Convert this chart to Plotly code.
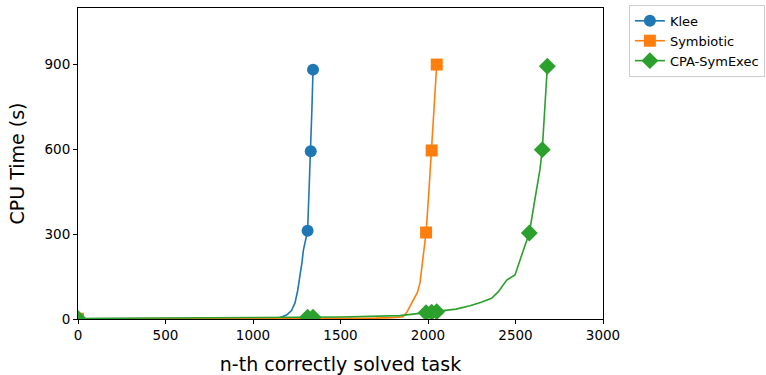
import plotly.graph_objects as go

# Klee
klee_x = [0, 200, 500, 800, 1000, 1100, 1150, 1192, 1220, 1240, 1255, 1269, 1280, 1288, 1300, 1312, 1320, 1330, 1337, 1343]
klee_y = [1, 1, 1.5, 2, 2, 3, 4, 14, 30, 57, 100, 150, 200, 244, 280, 312, 450, 593, 750, 882]
klee_mx = [0, 1312, 1330, 1343]
klee_my = [1, 312, 593, 882]

# Symbiotic
sym_x = [0, 500, 1000, 1500, 1700, 1800, 1840, 1857, 1880, 1897, 1910, 1926, 1940, 1954, 1970, 1989, 2005, 2021, 2035, 2050]
sym_y = [1, 1, 1.5, 2, 3, 5, 6, 8, 25, 44, 60, 79, 95, 127, 210, 306, 450, 596, 750, 900]
sym_mx = [0, 1989, 2021, 2050]
sym_my = [1, 306, 596, 900]

# CPA-SymExec
cpa_x = [0, 500, 1000, 1312, 1343, 1500, 1840, 1989, 2021, 2050, 2088, 2160, 2240, 2300, 2363, 2400, 2450, 2497, 2526, 2550, 2579, 2610, 2640, 2653, 2668, 2682]
cpa_y = [2, 3, 4, 6, 6, 7, 12, 22, 24, 26, 28, 35, 47, 58, 73, 95, 138, 156, 209, 250, 304, 420, 530, 599, 750, 894]
cpa_mx = [0, 1312, 1343, 1989, 2021, 2050, 2579, 2653, 2682]
cpa_my = [2, 6, 6, 22, 24, 26, 304, 599, 894]

x_ticks = [0, 500, 1000, 1500, 2000, 2500, 3000]
y_ticks = [0, 300, 600, 900]

series = [
    ("Klee", klee_x, klee_y, klee_mx, klee_my, "#1f77b4", "circle", 12),
    ("Symbiotic", sym_x, sym_y, sym_mx, sym_my, "#ff7f0e", "square", 12),
    ("CPA-SymExec", cpa_x, cpa_y, cpa_mx, cpa_my, "#2ca02c", "diamond", 13),
]

fig = go.Figure()
for name, x, y, mx, my, color, sym, size in series:
    fig.add_trace(go.Scatter(x=x, y=y, mode="lines", line=dict(color=color, width=1.6),
                             showlegend=False, hoverinfo="skip"))
    fig.add_trace(go.Scatter(x=mx, y=my, mode="markers",
                             marker=dict(color=color, symbol=sym, size=size, line=dict(width=0)),
                             showlegend=False))
    fig.add_trace(go.Scatter(x=[None], y=[None], mode="lines+markers", name=name,
                             line=dict(color=color, width=1.6),
                             marker=dict(color=color, symbol=sym, size=size, line=dict(width=0))))

font = "DejaVu Sans"
fig.update_layout(
    width=766, height=375,
    margin=dict(l=78, r=163, t=8, b=56),
    paper_bgcolor="white", plot_bgcolor="white",
    font=dict(family=font, size=13, color="black"),
    legend=dict(xref="container", yref="container", x=0.821, y=0.987,
                xanchor="left", yanchor="top",
                bordercolor="#cccccc", borderwidth=1, bgcolor="white",
                font=dict(family=font, size=13), tracegroupgap=0, itemwidth=30),
    xaxis=dict(range=[0, 3000], tickvals=x_ticks, ticks="outside", ticklen=4, tickcolor="black",
               showline=True, linecolor="black", linewidth=1, mirror=True, showgrid=False, zeroline=False,
               automargin=False,
               title=dict(text="n-th correctly solved task", font=dict(size=19), standoff=15),
               tickfont=dict(size=13.5)),
    yaxis=dict(range=[0, 1100], tickvals=y_ticks, ticks="outside", ticklen=4, tickcolor="black",
               showline=True, linecolor="black", linewidth=1, mirror=True, showgrid=False, zeroline=False,
               automargin=False,
               title=dict(text="CPU Time (s)", font=dict(size=19), standoff=14),
               tickfont=dict(size=13.5)),
)

fig.write_html("out.html", config={"displayModeBar": False},
               post_script="document.body.style.margin='0';")
